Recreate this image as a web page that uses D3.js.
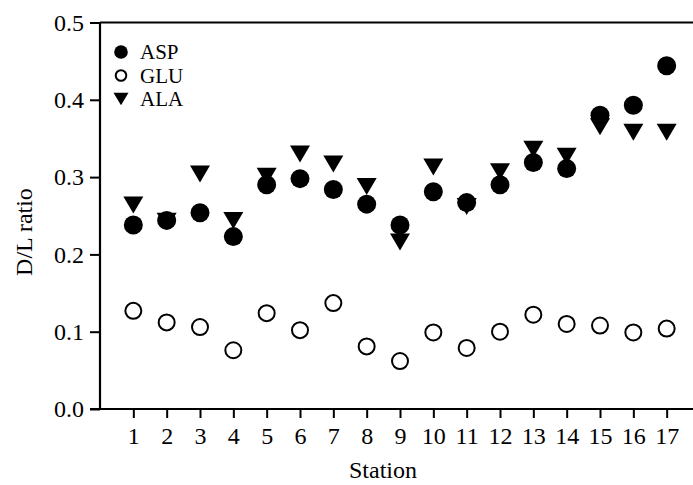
<!DOCTYPE html>
<html>
<head>
<meta charset="utf-8">
<script src="https://cdn.jsdelivr.net/npm/d3@7"></script>
<style>
    body { margin: 0; background: #fff; }
    svg { display: block; }
    text { font-family: "Liberation Serif", "Times New Roman", serif; fill: #000; }
</style>
</head>
<body>
<div id="chart"></div>
<script>
// station numbers and D/L ratio per amino acid
const stations = [1, 2, 3, 4, 5, 6, 7, 8, 9, 10, 11, 12, 13, 14, 15, 16, 17];
const asp = [0.238, 0.244, 0.254, 0.223, 0.290, 0.298, 0.284, 0.265, 0.238, 0.281, 0.267, 0.290, 0.319, 0.311, 0.380, 0.393, 0.444];
const glu = [0.127, 0.112, 0.106, 0.076, 0.124, 0.102, 0.137, 0.081, 0.062, 0.099, 0.079, 0.100, 0.122, 0.110, 0.108, 0.099, 0.104];
const ala = [0.264, 0.243, 0.304, 0.244, 0.301, 0.330, 0.317, 0.288, 0.216, 0.313, 0.262, 0.307, 0.336, 0.327, 0.365, 0.358, 0.358];
const yTicks = [0.0, 0.1, 0.2, 0.3, 0.4, 0.5];

const series = [
    { name: "ASP", values: asp, shape: "dot" },
    { name: "GLU", values: glu, shape: "ring" },
    { name: "ALA", values: ala, shape: "tri" }
];

const width = 693;
const height = 485;
const margin = { left: 100, top: 22.5, right: 0, bottom: 76 };

const svg = d3.select("#chart")
    .append("svg")
    .attr("width", width)
    .attr("height", height);

const x = d3.scaleLinear()
    .domain([0, 17.79])
    .range([margin.left, width - margin.right]);

const y = d3.scaleLinear()
    .domain([0, 0.5])
    .range([height - margin.bottom, margin.top]);

// down-pointing triangle, centred on its bounding box
function triPath(w, h) {
    return `M${-w / 2},${-h / 2}L${w / 2},${-h / 2}L0,${h / 2}Z`;
}

function drawMark(sel, shape, big) {
    if (shape === "dot") {
        sel.append("circle")
            .attr("r", big ? 9.5 : 6.8)
            .attr("fill", "#000");
    } else if (shape === "ring") {
        sel.append("circle")
            .attr("r", big ? 8 : 5.3)
            .attr("fill", "#fff")
            .attr("stroke", "#000")
            .attr("stroke-width", 2);
    } else {
        sel.append("path")
            .attr("d", big ? triPath(20, 17) : triPath(15, 12.5))
            .attr("fill", "#000");
    }
}

// axes
const xAxis = d3.axisBottom(x)
    .tickValues(stations)
    .tickSize(9)
    .tickPadding(9)
    .tickFormat(d3.format("d"));

const yAxis = d3.axisLeft(y)
    .tickValues(yTicks)
    .tickSize(10)
    .tickPadding(6)
    .tickFormat(d3.format(".1f"));

const gx = svg.append("g")
    .attr("transform", `translate(0,${y(0)})`)
    .call(xAxis);

const gy = svg.append("g")
    .attr("transform", `translate(${x(0)},0)`)
    .call(yAxis);

[gx, gy].forEach(g => {
    g.select(".domain").attr("stroke-width", 2.2).attr("stroke", "#000");
    g.selectAll(".tick line").attr("stroke-width", 2).attr("stroke", "#000");
    g.selectAll(".tick text")
        .style("font-family", '"Liberation Serif", "Times New Roman", serif')
        .style("font-size", "24px")
        .attr("fill", "#000");
});
gx.select(".domain").attr("d", `M${x(0) - 10},0H${width}`);
gy.select(".domain").attr("d", `M0,${y(0.5)}V${y(0)}`);

// top frame line
svg.append("line")
    .attr("x1", x(0))
    .attr("x2", width)
    .attr("y1", y(0.5))
    .attr("y2", y(0.5))
    .attr("stroke", "#000")
    .attr("stroke-width", 2.2);

// axis titles
svg.append("text")
    .attr("x", 383)
    .attr("y", 478)
    .attr("text-anchor", "middle")
    .style("font-size", "24px")
    .text("Station");

svg.append("text")
    .attr("transform", "translate(32,232) rotate(-90)")
    .attr("text-anchor", "middle")
    .style("font-size", "24px")
    .text("D/L ratio");

// marks: ALA drawn first, then ASP, GLU on top
const drawOrder = [series[2], series[0], series[1]];
drawOrder.forEach(s => {
    const g = svg.append("g").attr("class", "series-" + s.name);
    stations.forEach((st, i) => {
        const m = g.append("g")
            .attr("transform", `translate(${x(st)},${y(s.values[i])})`);
        drawMark(m, s.shape, true);
    });
});

// legend
const legend = svg.append("g")
    .attr("transform", "translate(121,52)");

series.forEach((s, i) => {
    const row = legend.append("g")
        .attr("transform", `translate(0,${i * 23.5})`);
    drawMark(row, s.shape, false);
    row.append("text")
        .attr("x", 19)
        .attr("y", 7)
        .style("font-size", "21px")
        .text(s.name);
});
</script>
</body>
</html>
